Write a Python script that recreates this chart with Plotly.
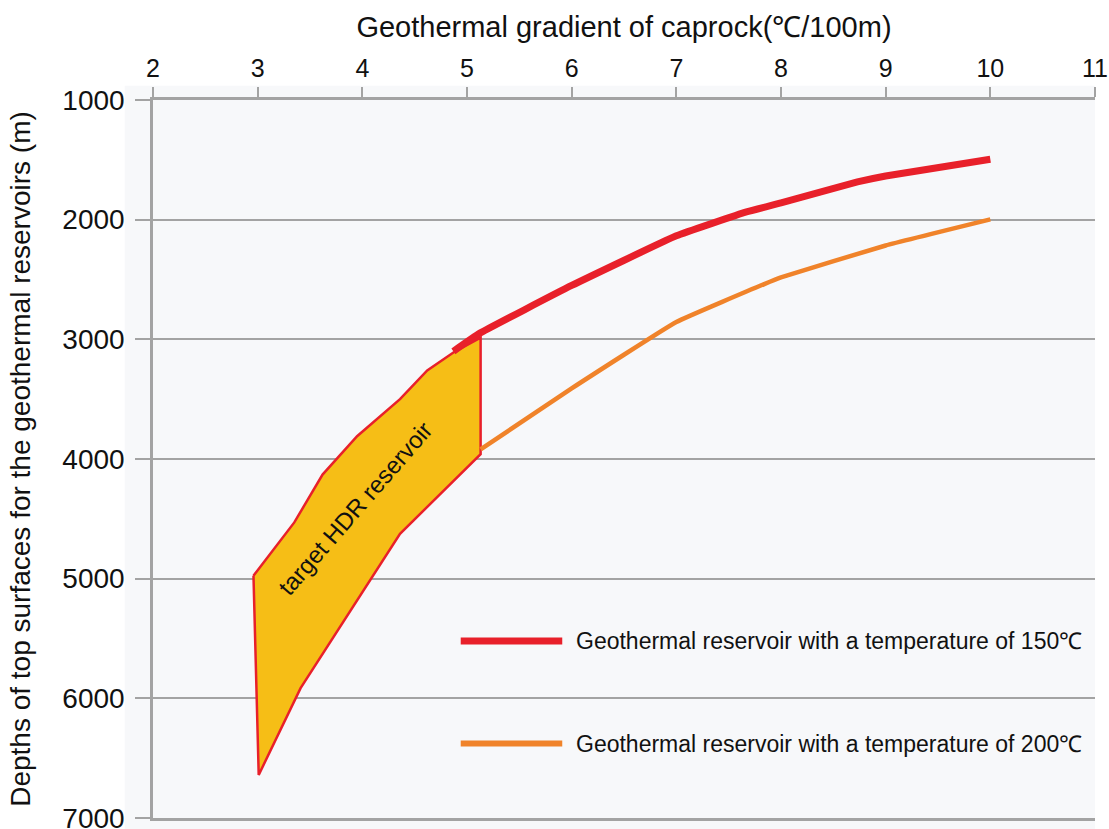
import plotly.graph_objects as go

# ---- data ----
x_150 = [4.87, 5.12, 6.0, 7.0, 7.67, 8.0, 8.73, 9.0, 10.0]
d_150 = [3100, 2950, 2550, 2135, 1935, 1860, 1685, 1635, 1495]

x_200 = [5.13, 6.0, 7.0, 7.84, 8.0, 9.0, 10.0]
d_200 = [3920, 3410, 2855, 2538, 2482, 2216, 1998]

# target HDR reservoir polygon (closed)
x_hdr = [2.96, 3.35, 3.62, 3.95, 4.36, 4.62, 4.87, 5.13, 5.13, 4.36, 3.41, 3.01, 2.96]
d_hdr = [4975, 4530, 4130, 3810, 3500, 3260, 3110, 2985, 3960, 4625, 5915, 6640, 4975]

x_ticks = [2, 3, 4, 5, 6, 7, 8, 9, 10, 11]
y_ticks = [1000, 2000, 3000, 4000, 5000, 6000, 7000]

legend_labels = ["Geothermal reservoir with a temperature of 150℃",
                 "Geothermal reservoir with a temperature of 200℃"]

RED = "#E8202A"
ORANGE = "#F0832A"
FILL = "#F6BE16"
GRID = "#A3A3A3"
FONT = "Liberation Sans, Arial, sans-serif"

fig = go.Figure()

fig.add_trace(go.Scatter(x=x_hdr, y=d_hdr, mode="lines", fill="toself",
                         fillcolor=FILL, line=dict(color=RED, width=2.5),
                         hoverinfo="skip", showlegend=False))
fig.add_trace(go.Scatter(x=x_200, y=d_200, mode="lines",
                         line=dict(color=ORANGE, width=4.5, shape="spline", smoothing=0.3),
                         showlegend=False))
fig.add_trace(go.Scatter(x=x_150, y=d_150, mode="lines",
                         line=dict(color=RED, width=7, shape="spline", smoothing=0.3),
                         showlegend=False))

# legend drawn as shapes + text (positions in data coords)
leg_x0, leg_x1, leg_tx = 4.94, 5.91, 6.02
leg_y = [5521, 6378]
leg_col = [RED, ORANGE]
leg_w = [7, 6]
for lab, yy, c, w in zip(legend_labels, leg_y, leg_col, leg_w):
    fig.add_shape(type="line", x0=leg_x0, x1=leg_x1, y0=yy, y1=yy,
                  line=dict(color=c, width=w), layer="above")
    fig.add_annotation(x=leg_tx, y=yy, text=lab, showarrow=False,
                       xanchor="left", yanchor="middle",
                       font=dict(family=FONT, size=23, color="#111111"))

fig.add_annotation(x=3.93, y=4412, text="target HDR reservoir", showarrow=False,
                   textangle=-49, font=dict(family=FONT, size=24, color="#111111"))

# panel background
fig.add_shape(type="rect", xref="paper", yref="paper", x0=-0.03, x1=1.0, y0=-0.02, y1=1.02,
              fillcolor="#F7F8FA", line=dict(width=0), layer="below")

fig.update_layout(
    width=1109, height=829,
    margin=dict(l=153, r=14, t=100, b=11),
    paper_bgcolor="white", plot_bgcolor="#F7F8FA",
    showlegend=False,
    xaxis=dict(side="top", range=[2, 11], tickvals=x_ticks, automargin=False,
               showgrid=False, zeroline=False,
               showline=True, mirror=True, linecolor=GRID, linewidth=3,
               ticks="outside", ticklen=10, tickwidth=2, tickcolor=GRID,
               ticklabeloverflow="allow",
               tickfont=dict(family=FONT, size=25, color="#111111"),
               title=dict(text="Geothermal gradient of caprock(℃/100m)",
                          font=dict(family=FONT, size=29, color="#111111"), standoff=8)),
    yaxis=dict(range=[7000, 1000], tickvals=y_ticks, automargin=False,
               showgrid=True, gridcolor=GRID, gridwidth=2, zeroline=False,
               showline=True, linecolor=GRID, linewidth=2.5,
               ticks="outside", ticklen=15, tickwidth=2, tickcolor=GRID,
               ticklabelstandoff=5, ticklabeloverflow="allow",
               tickfont=dict(family=FONT, size=28, color="#111111"),
               title=dict(text="Depths of top surfaces for the geothermal reservoirs (m)",
                          font=dict(family=FONT, size=28, color="#111111"), standoff=24)),
)

fig.write_html("out.html", config={"displayModeBar": False},
               post_script="document.body.style.margin='0';")
